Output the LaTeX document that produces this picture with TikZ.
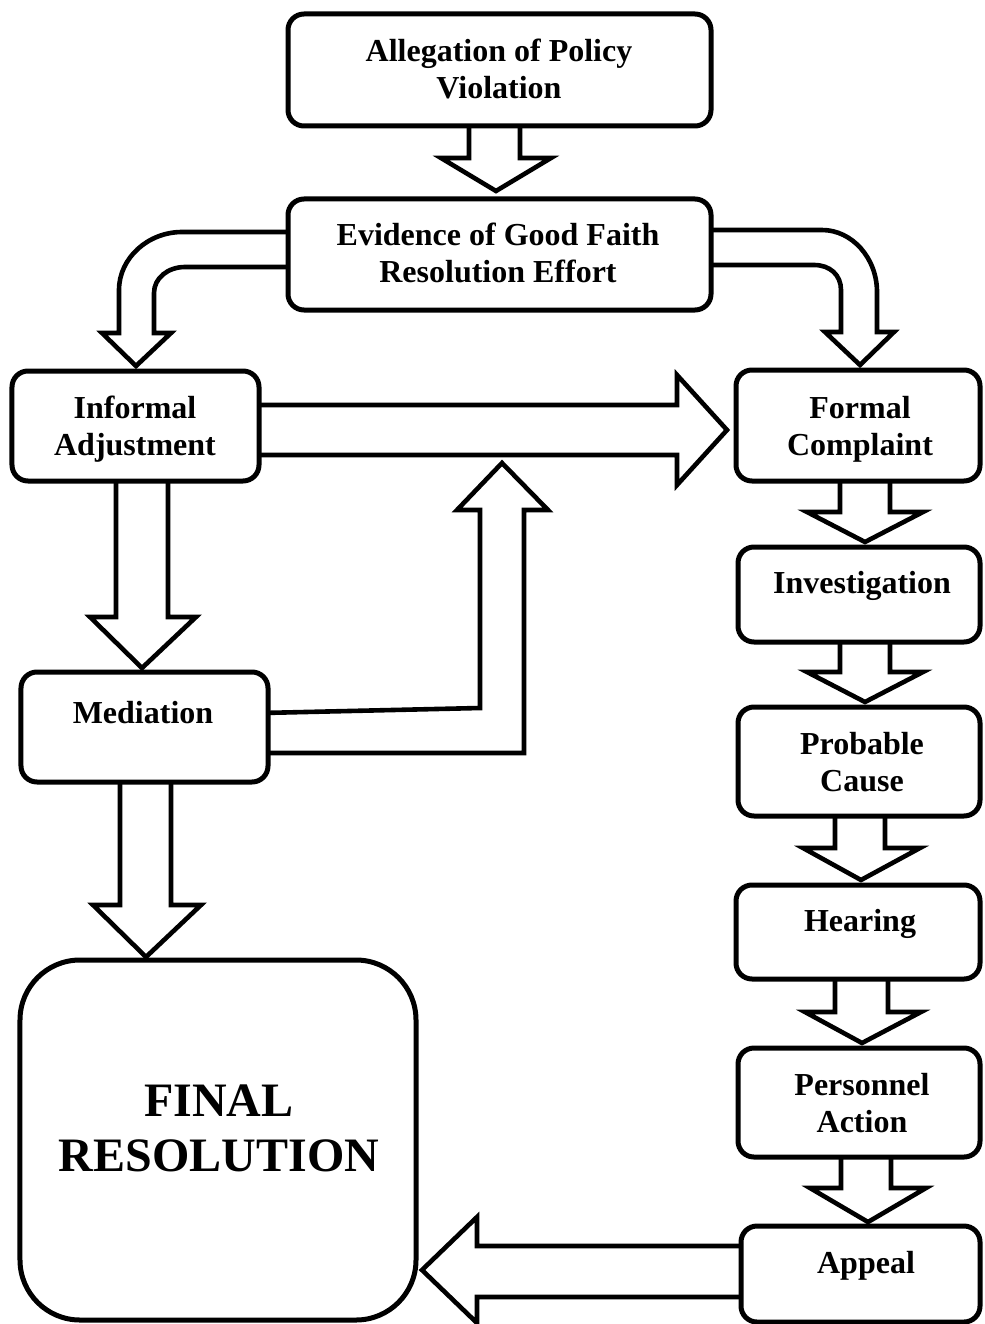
\documentclass[tikz,border=0pt]{standalone}
\usepackage{fontspec}
\setmainfont{Liberation Serif}
\begin{document}
\begin{tikzpicture}[x=1bp,y=-1bp,
  box/.style={draw, line width=5bp, rounded corners=16bp, fill=white, inner sep=0pt},
  txt/.style={inner sep=0pt, align=center, font=\fontsize{32bp}{37bp}\selectfont\bfseries},
  bigtxt/.style={inner sep=0pt, align=center, font=\fontsize{48bp}{55bp}\selectfont\bfseries},
  blockarrow/.style={draw, line width=4.6bp, fill=white, line join=miter, miter limit=10}]
\useasboundingbox (0,0) rectangle (984,1324);
\clip (0,0) rectangle (984,1324);

% ---- block arrows (drawn first, boxes cover their bases) ----
% Allegation -> Evidence
\draw[blockarrow] (469,120) -- (469,158) -- (441,158) -- (496,191) -- (551,158) -- (520,158) -- (520,120);
% Evidence -> Informal (curved)
\draw[blockarrow] (295,232) -- (182,232) .. controls (148,232) and (119,258) .. (119,290)
  -- (119,333) -- (102,333) -- (136,366) -- (171,333) -- (154,333) -- (154,293)
  .. controls (154,278) and (168,267) .. (185,267) -- (295,267);
% Evidence -> Formal (curved)
\draw[blockarrow] (705,230) -- (822,230) .. controls (852,230) and (877,258) .. (877,292)
  -- (877,332) -- (894,332) -- (860,365) -- (825,332) -- (841,332) -- (841,290)
  .. controls (841,275) and (830,265) .. (814,265) -- (705,265);
% Informal -> Formal
\draw[blockarrow] (253,405) -- (677,405) -- (677,375) -- (727,430) -- (677,485) -- (677,455) -- (253,455);
% Informal -> Mediation
\draw[blockarrow] (116,475) -- (116,617) -- (90,617) -- (142,668) -- (196,617) -- (168,617) -- (168,475);
% Mediation -> Final
\draw[blockarrow] (120,776) -- (120,905) -- (93,905) -- (146,957) -- (201,905) -- (171,905) -- (171,776);
% Mediation -> up to Informal/Formal arrow
\draw[blockarrow] (262,713) -- (480,708) -- (480,510) -- (457,510) -- (502,463) -- (548,510) -- (524,510) -- (524,753) -- (262,753);
% Formal -> Investigation
\draw[blockarrow] (840,475) -- (840,512) -- (807,512) -- (865,542) -- (923,512) -- (890,512) -- (890,475);
% Investigation -> Probable Cause
\draw[blockarrow] (840,636) -- (840,672) -- (807,672) -- (865,702) -- (923,672) -- (890,672) -- (890,636);
% Probable Cause -> Hearing
\draw[blockarrow] (835,810) -- (835,848) -- (803,848) -- (861,880) -- (920,848) -- (885,848) -- (885,810);
% Hearing -> Personnel Action
\draw[blockarrow] (835,973) -- (835,1012) -- (805,1012) -- (862,1043) -- (921,1012) -- (888,1012) -- (888,973);
% Personnel Action -> Appeal
\draw[blockarrow] (841,1151) -- (841,1188) -- (810,1188) -- (868,1222) -- (926,1188) -- (891,1188) -- (891,1151);
% Appeal -> Final
\draw[blockarrow] (747,1246) -- (477,1246) -- (477,1217) -- (422,1270) -- (477,1323) -- (477,1297) -- (747,1297);

% ---- boxes ----
\node[box, minimum width=423bp, minimum height=112bp] (alleg) at (499.5,70) {};
\node[box, minimum width=423bp, minimum height=111bp] (evid) at (499.5,254.5) {};
\node[box, minimum width=247bp, minimum height=110bp] (inf) at (135.5,426) {};
\node[box, minimum width=244bp, minimum height=111bp] (form) at (858,425.5) {};
\node[box, minimum width=242bp, minimum height=95bp] (inv) at (859,594.5) {};
\node[box, minimum width=242bp, minimum height=109bp] (prob) at (859,761.5) {};
\node[box, minimum width=244bp, minimum height=94bp] (hear) at (858,932) {};
\node[box, minimum width=242bp, minimum height=109bp] (pers) at (859,1102.5) {};
\node[box, minimum width=239bp, minimum height=96bp] (app) at (860.5,1274) {};
\node[box, minimum width=247bp, minimum height=110bp] (med) at (144.5,727) {};
\node[box, rounded corners=60bp, minimum width=396bp, minimum height=360bp] (final) at (218,1140) {};

% ---- texts ----
\node[txt] (allegT) at (499,69) {Allegation of Policy\\Violation};
\node[txt] (evidT) at (498,253) {Evidence of Good Faith\\Resolution Effort};
\node[txt] (infT) at (135,429) {Informal\\Adjustment};
\node[txt] (formT) at (860,429) {Formal\\Complaint};
\node[txt] (invT) at (862,586) {Investigation};
\node[txt] (probT) at (862,762) {Probable\\Cause};
\node[txt] (hearT) at (860,924) {Hearing};
\node[txt] (persT) at (862,1103) {Personnel\\Action};
\node[txt] (appT) at (866,1266) {Appeal};
\node[txt] (medT) at (143,713) {Mediation};
\node[bigtxt] (finalT) at (219,1128) {FINAL\\RESOLUTION};
\end{tikzpicture}
\end{document}
